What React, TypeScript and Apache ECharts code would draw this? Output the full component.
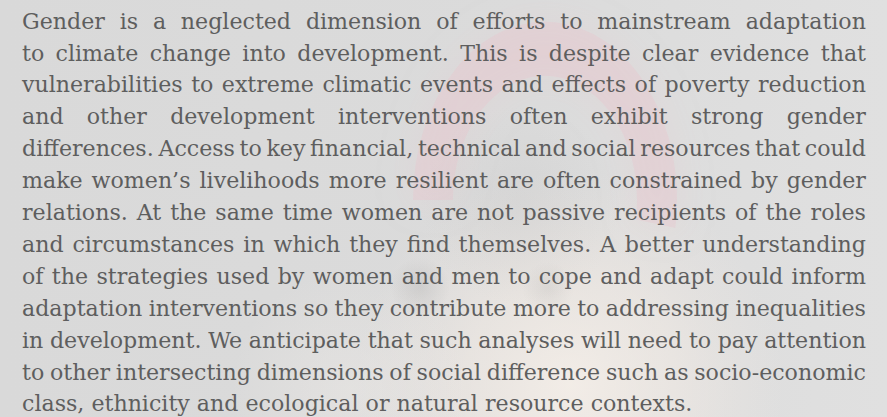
import React, { useEffect, useRef } from "react";
import * as echarts from "echarts";

const lines: string[] = [
  "Gender is a neglected dimension of efforts to mainstream adaptation",
  "to climate change into development. This is despite clear evidence that",
  "vulnerabilities to extreme climatic events and effects of poverty reduction",
  "and other development interventions often exhibit strong gender",
  "differences. Access to key financial, technical and social resources that could",
  "make women\u2019s livelihoods more resilient are often constrained by gender",
  "relations. At the same time women are not passive recipients of the roles",
  "and circumstances in which they find themselves. A better understanding",
  "of the strategies used by women and men to cope and adapt could inform",
  "adaptation interventions so they contribute more to addressing inequalities",
  "in development. We anticipate that such analyses will need to pay attention",
  "to other intersecting dimensions of social difference such as socio-economic",
  "class, ethnicity and ecological or natural resource contexts.",
];

const W = 887;
const H = 417;
const LEFT = 22;
const RIGHT = 866;
const FIRST_BASELINE = 28.5;
const LINE_H = 31.9;
const FONT_FAMILY = "'DejaVu Serif', serif";
const FONT_SIZE = 23;
const TEXT_COLOR = "#5e5e5e";
const REF_LINE = 2; // line set with natural spacing

function radial(stops: [number, string][]) {
  return {
    type: "radial",
    x: 0.5,
    y: 0.5,
    r: 0.5,
    colorStops: stops.map(([offset, color]) => ({ offset, color })),
  };
}

export default function App() {
  const ref = useRef<HTMLDivElement>(null);
  useEffect(() => {
    if (!ref.current) return;
    const chart = echarts.init(ref.current, undefined, { renderer: "svg", width: W, height: H });
    const canvas = document.createElement("canvas");
    const ctx = canvas.getContext("2d")!;
    ctx.font = `${FONT_SIZE}px ${FONT_FAMILY}`;
    const spaceW = ctx.measureText(" ").width;
    const sx = (RIGHT - LEFT) / ctx.measureText(lines[REF_LINE]).width * 0.985;
    const minGap = spaceW * sx * 0.45;

    const textEls: any[] = [];
    lines.forEach((line, i) => {
      const words = line.split(" ");
      const widths = words.map((w) => ctx.measureText(w).width);
      const total = widths.reduce((a, b) => a + b, 0);
      const isLast = i === lines.length - 1;
      let scale = sx;
      let gap: number;
      if (isLast || words.length < 2) {
        gap = spaceW * sx;
      } else {
        gap = (RIGHT - LEFT - total * scale) / (words.length - 1);
        if (gap < minGap) {
          gap = minGap;
          scale = (RIGHT - LEFT - gap * (words.length - 1)) / total;
        }
      }
      let x = LEFT;
      const baseline = FIRST_BASELINE + i * LINE_H;
      words.forEach((w, j) => {
        textEls.push({
          type: "text",
          x,
          y: baseline - FONT_SIZE * 0.346,
          scaleX: scale,
          silent: true,
          style: {
            text: w,
            fill: TEXT_COLOR,
            fontSize: FONT_SIZE,
            fontFamily: FONT_FAMILY,
            textAlign: "left",
            textVerticalAlign: "middle",
          },
        });
        x += widths[j] * scale + gap;
      });
    });

    const bgEls: any[] = [
      {
        type: "rect",
        shape: { x: 0, y: 0, width: W, height: H },
        style: {
          fill: {
            type: "linear",
            x: 0,
            y: 0,
            x2: 1,
            y2: 0,
            colorStops: [
              { offset: 0, color: "#d9d9d9" },
              { offset: 0.6, color: "#dbdbdb" },
              { offset: 1, color: "#e0e0e0" },
            ],
          },
        },
        silent: true,
      },
      // warm light face / neck glow
      {
        type: "circle",
        shape: { cx: 570, cy: 385, r: 215 },
        style: {
          fill: radial([
            [0, "rgba(252,244,236,0.7)"],
            [0.5, "rgba(247,238,230,0.45)"],
            [1, "rgba(240,232,226,0)"],
          ]),
        },
        silent: true,
      },
      {
        type: "circle",
        shape: { cx: 350, cy: 390, r: 120 },
        style: {
          fill: radial([
            [0, "rgba(240,236,232,0.4)"],
            [1, "rgba(240,236,232,0)"],
          ]),
        },
        silent: true,
      },
      // pink headscarf arch
      {
        type: "arc",
        shape: { cx: 545, cy: 200, r: 112, startAngle: Math.PI * 1.0, endAngle: Math.PI * 2.05, clockwise: true },
        scaleY: 1.35,
        originX: 545,
        originY: 200,
        style: {
          stroke: "rgba(232,198,204,0.38)",
          lineWidth: 40,
          fill: "none",
          shadowBlur: 35,
          shadowColor: "rgba(232,198,204,0.6)",
        },
        silent: true,
      },
      // darker hair region inside arch
      {
        type: "circle",
        shape: { cx: 520, cy: 205, r: 100 },
        style: {
          fill: radial([
            [0, "rgba(185,185,185,0.18)"],
            [1, "rgba(185,185,185,0)"],
          ]),
        },
        silent: true,
      },
      // eyes
      {
        type: "circle",
        shape: { cx: 420, cy: 287, r: 30 },
        style: { fill: radial([[0, "rgba(150,150,150,0.22)"], [1, "rgba(150,150,150,0)"]]) },
        silent: true,
      },
      {
        type: "circle",
        shape: { cx: 548, cy: 288, r: 26 },
        style: { fill: radial([[0, "rgba(160,160,160,0.18)"], [1, "rgba(160,160,160,0)"]]) },
        silent: true,
      },
    ];

    chart.setOption({
      animation: false,
      backgroundColor: "#dbdbdb",
      graphic: { elements: [...bgEls, ...textEls] },
    });
    return () => chart.dispose();
  }, []);

  return <div ref={ref} style={{ width: W, height: H, position: "absolute", left: 0, top: 0 }} />;
}
